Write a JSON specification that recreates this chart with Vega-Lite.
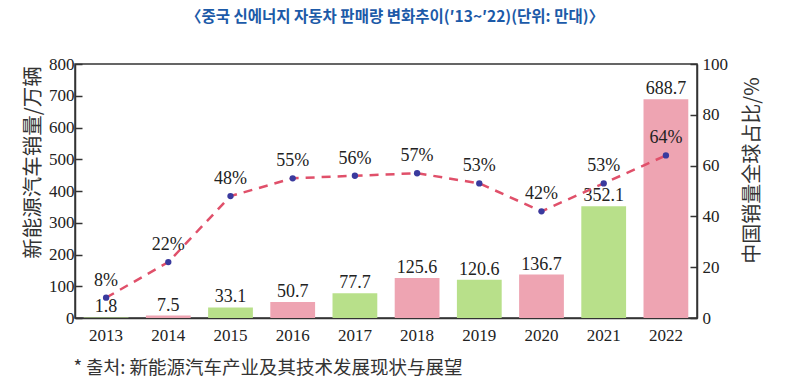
{
  "$schema": "https://vega.github.io/schema/vega-lite/v6.json",
  "autosize": {"type": "none"},
  "width": 622,
  "height": 254,
  "padding": {"left": 75, "top": 64, "right": 91, "bottom": 68},
  "background": "white",
  "config": {
    "view": {"stroke": "#333", "strokeWidth": 1.5},
    "font": "Liberation Serif",
    "text": {"font": "Liberation Serif"}
  },
  "title": {
    "text": "〈중국 신에너지 자동차 판매량 변화추이(′13~′22)(단위: 만대)〉",
    "font": "Noto Sans CJK KR",
    "fontSize": 15.5,
    "fontWeight": "bold",
    "color": "#1c5aa8",
    "anchor": "middle",
    "dx": 9,
    "offset": 30
  },
  "data": {
    "values": [
      {"year": "2013", "sales": 1.8, "share": 8, "pct": "8%", "grp": "g"},
      {"year": "2014", "sales": 7.5, "share": 22, "pct": "22%", "grp": "p"},
      {"year": "2015", "sales": 33.1, "share": 48, "pct": "48%", "grp": "g"},
      {"year": "2016", "sales": 50.7, "share": 55, "pct": "55%", "grp": "p"},
      {"year": "2017", "sales": 77.7, "share": 56, "pct": "56%", "grp": "g"},
      {"year": "2018", "sales": 125.6, "share": 57, "pct": "57%", "grp": "p"},
      {"year": "2019", "sales": 120.6, "share": 53, "pct": "53%", "grp": "g"},
      {"year": "2020", "sales": 136.7, "share": 42, "pct": "42%", "grp": "p"},
      {"year": "2021", "sales": 352.1, "share": 53, "pct": "53%", "grp": "g"},
      {"year": "2022", "sales": 688.7, "share": 64, "pct": "64%", "grp": "p"}
    ]
  },
  "encoding": {
    "x": {
      "field": "year",
      "type": "ordinal",
      "scale": {"paddingInner": 0.28, "paddingOuter": 0.14},
      "axis": {
        "labelAngle": 0,
        "labelFont": "Liberation Serif",
        "labelFontSize": 17,
        "labelColor": "#222",
        "ticks": false,
        "domainColor": "#333",
        "domainWidth": 1.5,
        "labelPadding": 9,
        "title": "* 출처: 新能源汽车产业及其技术发展现状与展望",
        "titleFont": "Noto Sans CJK KR",
        "titleFontSize": 18.5,
        "titleFontWeight": "normal",
        "titleColor": "#333",
        "titleAnchor": "start",
        "titleAlign": "left",
        "titleX": -2,
        "titleY": 40
      }
    }
  },
  "layer": [
    {
      "encoding": {
        "y": {
          "field": "sales",
          "type": "quantitative",
          "scale": {"domain": [0, 800]},
          "axis": {
            "values": [0, 100, 200, 300, 400, 500, 600, 700, 800],
            "grid": false,
            "tickSize": -7,
            "tickColor": "#333",
            "tickWidth": 1.5,
            "domainColor": "#333",
            "domainWidth": 1.5,
            "labelFont": "Liberation Serif",
            "labelFontSize": 17,
            "labelColor": "#222",
            "labelPadding": 8,
            "title": "新能源汽车销量/万辆",
            "titleFont": "Noto Sans CJK SC",
            "titleFontSize": 20.5,
            "titleFontWeight": "normal",
            "titleColor": "#333",
            "titleY": 98,
            "titlePadding": 5
          }
        }
      },
      "layer": [
        {
          "mark": {"type": "bar"},
          "encoding": {
            "color": {
              "field": "grp",
              "type": "nominal",
              "scale": {"domain": ["g", "p"], "range": ["#b8e08a", "#eea4b2"]},
              "legend": null
            }
          }
        },
        {
          "mark": {"type": "text", "baseline": "bottom", "dy": -1, "fontSize": 18, "font": "Liberation Serif", "color": "#222"},
          "encoding": {
            "text": {"field": "sales", "type": "quantitative", "format": ".1f"}
          }
        }
      ]
    },
    {
      "encoding": {
        "y": {
          "field": "share",
          "type": "quantitative",
          "scale": {"domain": [0, 100]},
          "axis": {
            "orient": "right",
            "values": [0, 20, 40, 60, 80, 100],
            "grid": false,
            "tickSize": -7,
            "tickColor": "#333",
            "tickWidth": 1.5,
            "domainColor": "#333",
            "domainWidth": 1.5,
            "labelFont": "Liberation Serif",
            "labelFontSize": 17,
            "labelColor": "#222",
            "labelPadding": 12,
            "title": "中国销量全球占比/%",
            "titleFont": "Noto Sans CJK SC",
            "titleFontSize": 20,
            "titleFontWeight": "normal",
            "titleColor": "#333",
            "titleAngle": -90,
            "titleBaseline": "top",
            "titleY": 106,
            "titlePadding": 15
          }
        }
      },
      "layer": [
        {
          "mark": {"type": "line", "color": "#e0506a", "strokeWidth": 2.5, "strokeDash": [9, 7]}
        },
        {
          "mark": {"type": "point", "filled": true, "color": "#3a3a9e", "size": 40, "opacity": 1}
        },
        {
          "mark": {"type": "text", "baseline": "bottom", "dy": -8, "fontSize": 18, "font": "Liberation Serif", "color": "#222"},
          "encoding": {
            "text": {"field": "pct", "type": "nominal"}
          }
        }
      ]
    }
  ],
  "resolve": {"scale": {"y": "independent", "color": "independent"}}
}
